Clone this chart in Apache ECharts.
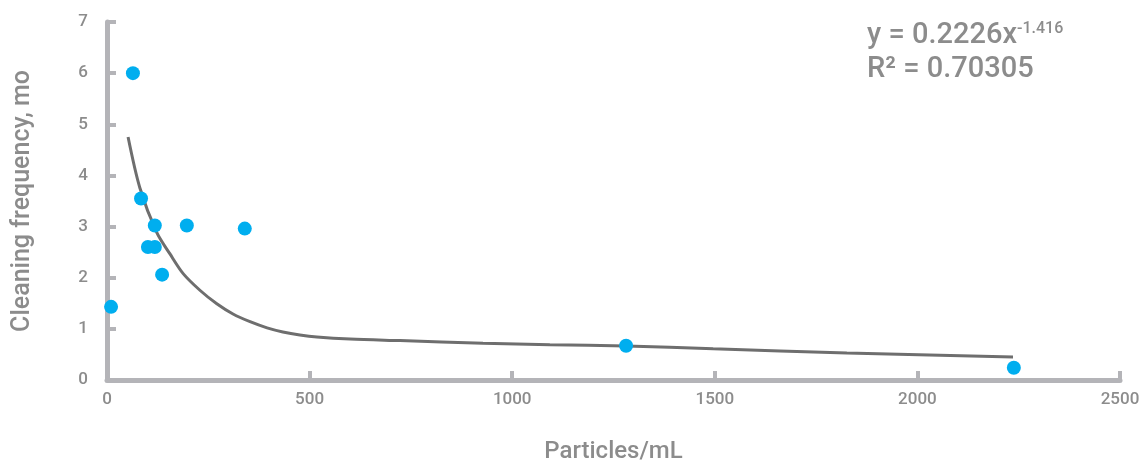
<!DOCTYPE html>
<html>
<head>
<meta charset="utf-8">
<script src="https://cdn.jsdelivr.net/npm/echarts@6/dist/echarts.min.js"></script>
<style>
html,body{margin:0;padding:0;background:#fff;}
#chart{width:1145px;height:465px;}
</style>
</head>
<body>
<div id="chart"></div>
<script>
// Measured points (Particles/mL, Cleaning frequency in months)
const pointsX = [10, 64, 84, 118, 197, 340, 101, 118, 136, 1281, 2238];
const pointsY = [1.43, 6.0, 3.55, 3.02, 3.02, 2.96, 2.6, 2.6, 2.06, 0.67, 0.24];
// Trend curve as drawn in the picture
const trendX = [52, 81, 123, 155, 188, 230, 271, 311, 353, 395, 434, 476, 518, 600, 723, 928, 1093, 1281, 1496, 1826, 2236];
const trendY = [4.75, 3.76, 2.88, 2.47, 2.08, 1.75, 1.49, 1.29, 1.14, 1.02, 0.94, 0.88, 0.84, 0.80, 0.77, 0.72, 0.69, 0.665, 0.61, 0.53, 0.45];
const xTicks = [0, 500, 1000, 1500, 2000, 2500];
const yTicks = [0, 1, 2, 3, 4, 5, 6, 7];
const xTitle = 'Particles/mL';
const yTitle = 'Cleaning frequency, mo';
const eqMain = 'y = 0.2226x';
const eqExp = '-1.416';
const r2Text = 'R² = 0.70305';

const FONT = 'Roboto, "Liberation Sans", sans-serif';
const AXIS_COLOR = '#b4b4b8';
const TEXT_COLOR = '#8c8c8c';

const chart = echarts.init(document.getElementById('chart'), null, {renderer: 'canvas'});
chart.setOption({
  animation: false,
  backgroundColor: '#fff',
  grid: {left: 107, right: 25, top: 22, bottom: 85, containLabel: false, outerBoundsMode: 'none'},
  xAxis: {
    type: 'value', min: xTicks[0], max: xTicks[xTicks.length - 1], interval: 500,
    name: xTitle, nameLocation: 'middle', nameGap: 60,
    nameTextStyle: {color: TEXT_COLOR, fontSize: 24, fontWeight: 500, fontFamily: FONT},
    axisLine: {show: true, lineStyle: {color: AXIS_COLOR, width: 5}},
    axisTick: {show: true, inside: true, length: 9, lineStyle: {color: AXIS_COLOR, width: 4}},
    axisLabel: {color: TEXT_COLOR, fontSize: 17, fontWeight: 500, fontFamily: FONT, margin: 11,
      formatter: v => String(v)},
    splitLine: {show: false}
  },
  yAxis: {
    type: 'value', min: yTicks[0], max: yTicks[yTicks.length - 1], interval: 1,
    name: yTitle, nameLocation: 'middle', nameGap: 72, nameRotate: 90,
    nameTextStyle: {color: TEXT_COLOR, fontSize: 25, fontWeight: 500, fontFamily: FONT},
    axisLine: {show: true, lineStyle: {color: AXIS_COLOR, width: 5}},
    axisTick: {show: true, inside: true, length: 9, lineStyle: {color: AXIS_COLOR, width: 4}},
    axisLabel: {color: TEXT_COLOR, fontSize: 17, fontWeight: 500, fontFamily: FONT, margin: 19,
      formatter: v => String(v)},
    splitLine: {show: false}
  },
  series: [
    {
      type: 'line',
      data: trendX.map((x, i) => [x, trendY[i]]),
      showSymbol: false,
      smooth: 0.3,
      lineStyle: {color: '#6e6e6e', width: 3},
      z: 2
    },
    {
      type: 'scatter',
      data: pointsX.map((x, i) => [x, pointsY[i]]),
      symbolSize: 14,
      itemStyle: {color: '#00aeef', opacity: 1},
      z: 3
    }
  ],
  graphic: [
    {
      type: 'text', left: 867, top: 21,
      style: {
        text: '{m|' + eqMain + '}{s|' + eqExp + '}',
        rich: {
          m: {fontSize: 29, fontWeight: 500, fontFamily: FONT, fill: TEXT_COLOR},
          s: {fontSize: 16, fontWeight: 500, fontFamily: FONT, fill: TEXT_COLOR, verticalAlign: 'top'}
        }
      }
    },
    {
      type: 'text', left: 867, top: 55,
      style: {text: r2Text, fontSize: 29, fontWeight: 500, fontFamily: FONT, fill: TEXT_COLOR}
    }
  ]
});
</script>
</body>
</html>
